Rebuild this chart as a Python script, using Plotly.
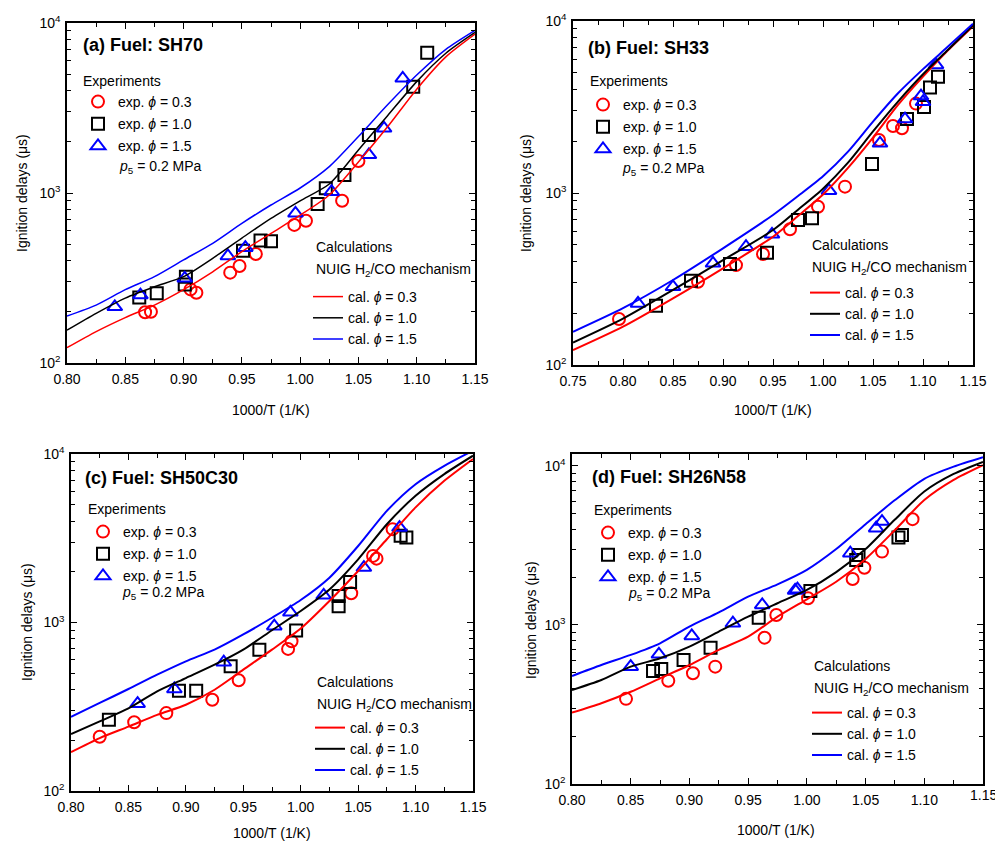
import plotly.graph_objects as go

W, H = 995, 841
FONT = "Liberation Sans, Arial, sans-serif"

PHI_LABELS = ["0.3", "1.0", "1.5"]
COLORS = ["#ff0000", "#000000", "#0000ff"]
SYMBOLS = ["circle-open", "square-open", "triangle-up-open"]

# ---------------- Panel (a) Fuel: SH70 ----------------
a_exp03_x = [0.867, 0.872, 0.906, 0.911, 0.940, 0.948, 0.962, 0.995, 1.005, 1.036, 1.050]
a_exp03_y = [199, 200, 271, 259, 340, 372, 438, 649, 687, 901, 1542]
a_exp10_x = [0.862, 0.877, 0.902, 0.901, 0.951, 0.966, 0.975, 1.015, 1.022, 1.038, 1.059, 1.097, 1.109]
a_exp10_y = [243, 257, 322, 290, 458, 525, 520, 861, 1067, 1276, 2193, 4220, 6680]
a_exp15_x = [0.841, 0.863, 0.901, 0.938, 0.953, 0.996, 1.027, 1.059, 1.072, 1.088]
a_exp15_y = [214, 251, 315, 426, 477, 759, 1018, 1676, 2400, 4730]
a_cal_x = [0.80, 0.825, 0.85, 0.875, 0.90, 0.925, 0.95, 0.975, 1.00, 1.025, 1.05, 1.075, 1.10, 1.125, 1.15]
a_cal03 = [123, 153, 185, 219, 270, 344, 452, 579, 740, 973, 1520, 2450, 4080, 6320, 8600]
a_cal10 = [156, 196, 241, 281, 322, 413, 543, 709, 900, 1130, 1790, 2850, 4520, 6640, 8800]
a_cal15 = [189, 219, 270, 322, 404, 506, 663, 850, 1070, 1430, 2150, 3300, 4940, 7000, 9050]

# ---------------- Panel (b) Fuel: SH33 ----------------
b_exp03_x = [0.796, 0.875, 0.913, 0.940, 0.967, 0.995, 1.022, 1.056, 1.070, 1.079, 1.093]
b_exp03_y = [185, 305, 381, 442, 615, 832, 1089, 2032, 2454, 2378, 3310]
b_exp10_x = [0.833, 0.868, 0.907, 0.944, 0.975, 0.989, 1.049, 1.084, 1.101, 1.107, 1.115]
b_exp10_y = [221, 309, 386, 450, 697, 713, 1475, 2690, 3160, 4110, 4740]
b_exp15_x = [0.815, 0.850, 0.890, 0.923, 0.949, 1.006, 1.057, 1.082, 1.098, 1.100, 1.113]
b_exp15_y = [228, 285, 390, 487, 575, 1031, 1945, 2690, 3660, 3390, 5550]
b_cal_x = [0.75, 0.80, 0.85, 0.90, 0.95, 0.975, 1.00, 1.025, 1.05, 1.075, 1.10, 1.125, 1.15]
b_cal03 = [122, 167, 244, 365, 557, 735, 980, 1400, 2100, 3250, 4750, 6750, 9300]
b_cal10 = [135, 186, 273, 407, 609, 800, 1060, 1500, 2280, 3400, 4900, 6800, 9450]
b_cal15 = [156, 214, 312, 477, 745, 960, 1250, 1740, 2600, 3800, 5250, 7100, 9650]

# ---------------- Panel (c) Fuel: SH50C30 ----------------
c_exp03_x = [0.825, 0.855, 0.883, 0.923, 0.946, 0.989, 0.992, 1.044, 1.063, 1.066, 1.080]
c_exp03_y = [210, 256, 290, 348, 454, 697, 774, 1490, 2485, 2393, 3580]
c_exp10_x = [0.833, 0.894, 0.909, 0.939, 0.964, 0.996, 1.033, 1.033, 1.043, 1.087, 1.092]
c_exp10_y = [265, 394, 394, 550, 690, 896, 1250, 1436, 1738, 3270, 3190]
c_exp15_x = [0.858, 0.890, 0.933, 0.977, 0.991, 1.020, 1.055, 1.086]
c_exp15_y = [330, 403, 581, 951, 1150, 1449, 2118, 3660]
c_cal_x = [0.80, 0.825, 0.85, 0.875, 0.90, 0.925, 0.95, 0.975, 1.00, 1.025, 1.05, 1.075, 1.10, 1.125, 1.15]
c_cal03 = [170, 206, 241, 283, 325, 399, 525, 690, 920, 1340, 2020, 3120, 4820, 6930, 9340]
c_cal10 = [218, 259, 309, 390, 468, 562, 691, 900, 1170, 1570, 2370, 3830, 5650, 7600, 9770]
c_cal15 = [275, 333, 403, 490, 588, 690, 849, 1067, 1360, 1845, 2845, 4600, 6620, 8510, 10470]

# ---------------- Panel (d) Fuel: SH26N58 ----------------
d_exp03_x = [0.846, 0.882, 0.903, 0.922, 0.964, 0.974, 1.001, 1.039, 1.049, 1.064, 1.090]
d_exp03_y = [343, 446, 497, 547, 832, 1156, 1472, 1945, 2292, 2893, 4626]
d_exp10_x = [0.869, 0.876, 0.895, 0.918, 0.959, 1.003, 1.042, 1.044, 1.078, 1.081]
d_exp10_y = [514, 528, 603, 720, 1111, 1637, 2566, 2755, 3550, 3680]
d_exp15_x = [0.850, 0.874, 0.902, 0.937, 0.962, 0.990, 0.992, 1.037, 1.059, 1.064]
d_exp15_y = [547, 654, 853, 1025, 1336, 1650, 1678, 2825, 4060, 4470]
d_cal_x = [0.80, 0.825, 0.85, 0.875, 0.90, 0.925, 0.95, 0.975, 1.00, 1.025, 1.05, 1.075, 1.10, 1.125, 1.15]
d_cal03 = [281, 322, 380, 462, 560, 697, 844, 1127, 1450, 1870, 2600, 3950, 6100, 8160, 10100]
d_cal10 = [390, 451, 547, 617, 731, 908, 1127, 1370, 1660, 2150, 3000, 4600, 6900, 8900, 10600]
d_cal15 = [478, 560, 648, 767, 977, 1200, 1507, 1800, 2220, 3000, 4300, 6100, 8300, 9900, 11350]

x_ticks_ab = [0.75, 0.80, 0.85, 0.90, 0.95, 1.00, 1.05, 1.10, 1.15]
y_major = [100, 1000, 10000]
y_major_text = ["10<sup>2</sup>", "10<sup>3</sup>", "10<sup>4</sup>"]
y_minor = [m * d for d in (100, 1000) for m in range(2, 10)]


def px(x):
    return x / W


def py(y):
    return 1 - y / H


panels = [
    dict(n=1, title="(a) Fuel: SH70", box=(67, 475, 23, 363), xr=(0.80, 1.15), yr=(2, 4),
         exp=[(a_exp03_x, a_exp03_y), (a_exp10_x, a_exp10_y), (a_exp15_x, a_exp15_y)],
         cx=a_cal_x, cal=[a_cal03, a_cal10, a_cal15], lw=1.5,
         tpos=(81, 45), ex=(81, 81), mk=(98, 100), p5=(117, 167), cl=(314, 247), ln=(313, 296),
         xt=(271, 410), yt=(22, 193)),
    dict(n=2, title="(b) Fuel: SH33", box=(573, 973, 21, 365), xr=(0.75, 1.15), yr=(2, 4),
         exp=[(b_exp03_x, b_exp03_y), (b_exp10_x, b_exp10_y), (b_exp15_x, b_exp15_y)],
         cx=b_cal_x, cal=[b_cal03, b_cal10, b_cal15], lw=2,
         tpos=(586, 48), ex=(588, 81), mk=(603, 103), p5=(620, 169), cl=(810, 245), ln=(810, 292),
         xt=(773, 410), yt=(526, 193)),
    dict(n=3, title="(c) Fuel: SH50C30", box=(71, 473, 454, 791), xr=(0.80, 1.15), yr=(2, 4),
         exp=[(c_exp03_x, c_exp03_y), (c_exp10_x, c_exp10_y), (c_exp15_x, c_exp15_y)],
         cx=c_cal_x, cal=[c_cal03, c_cal10, c_cal15], lw=2,
         tpos=(83, 478), ex=(86, 509), mk=(103, 530), p5=(120, 593), cl=(315, 682), ln=(315, 727),
         xt=(272, 833), yt=(27, 622)),
    dict(n=4, title="(d) Fuel: SH26N58", box=(572, 983, 454, 784), xr=(0.80, 1.15), yr=(2, 4.075),
         exp=[(d_exp03_x, d_exp03_y), (d_exp10_x, d_exp10_y), (d_exp15_x, d_exp15_y)],
         cx=d_cal_x, cal=[d_cal03, d_cal10, d_cal15], lw=2,
         tpos=(590, 477), ex=(592, 510), mk=(608, 531), p5=(626, 594), cl=(812, 666), ln=(812, 712),
         xt=(776, 830), yt=(531, 620)),
]

fig = go.Figure()
annotations = []
layout = {}

for p in panels:
    n = p["n"]
    sfx = "" if n == 1 else str(n)
    xa, ya = "x" + sfx, "y" + sfx
    leg_exp = "legend" if n == 1 else "legend%d" % (2 * n - 1)
    leg_cal = "legend%d" % (2 * n)
    for i, (ex, ey) in enumerate(p["exp"]):
        fig.add_trace(go.Scatter(
            x=ex, y=ey, mode="markers", xaxis=xa, yaxis=ya, legend=leg_exp,
            legendgroup="e%d_%d" % (n, i),
            name="exp. <i>ϕ</i> = " + PHI_LABELS[i],
            marker=dict(symbol=SYMBOLS[i], size=12 if i < 2 else 13, color=COLORS[i],
                        line=dict(width=2, color=COLORS[i])),
            cliponaxis=True))
    for i, cy in enumerate(p["cal"]):
        fig.add_trace(go.Scatter(
            x=p["cx"], y=cy, mode="lines", xaxis=xa, yaxis=ya, legend=leg_cal,
            legendgroup="c%d_%d" % (n, i),
            name="cal. <i>ϕ</i> = " + PHI_LABELS[i],
            line=dict(color=COLORS[i], width=p["lw"], shape="spline", smoothing=0.7)))

    x0, x1, y0, y1 = p["box"]
    common_axis = dict(showline=True, linecolor="black", linewidth=1.5, mirror="allticks",
                       ticks="inside", ticklen=6, tickwidth=1.2, tickcolor="black",
                       showgrid=False, zeroline=False, automargin=False,
                       tickfont=dict(family=FONT, size=14, color="black"))
    xticks = [t for t in x_ticks_ab if p["xr"][0] - 1e-9 <= t <= p["xr"][1] + 1e-9]
    layout["xaxis" + sfx] = dict(
        common_axis, domain=[px(x0), px(x1)], range=list(p["xr"]), anchor=ya,
        tickvals=xticks, ticktext=["%.2f" % t for t in xticks], ticklabelstandoff=2,
        minor=dict(dtick=0.025, ticks="inside", ticklen=4, tickcolor="black", tickwidth=1))
    layout["yaxis" + sfx] = dict(
        common_axis, domain=[py(y1), py(y0)], type="log", range=list(p["yr"]), anchor=xa,
        tickvals=y_major, ticktext=y_major_text, ticklabelstandoff=2,
        minor=dict(tickvals=y_minor, ticks="inside", ticklen=4, tickcolor="black", tickwidth=1))

    mx, my = p["mk"]
    layout[leg_exp] = dict(x=px(mx - 20), y=py(my - 14), xanchor="left", yanchor="top",
                           bgcolor="rgba(0,0,0,0)", borderwidth=0,
                           font=dict(family=FONT, size=14, color="black"),
                           tracegroupgap=1, itemclick=False)
    lx, ly = p["ln"]
    layout[leg_cal] = dict(x=px(lx - 5), y=py(ly - 15), xanchor="left", yanchor="top",
                           bgcolor="rgba(0,0,0,0)", borderwidth=0,
                           font=dict(family=FONT, size=14, color="black"),
                           tracegroupgap=0, itemclick=False)

    tx, ty = p["tpos"]
    annotations.append(dict(x=px(tx), y=py(ty), xref="paper", yref="paper", showarrow=False,
                            xanchor="left", yanchor="middle", text="<b>" + p["title"] + "</b>",
                            font=dict(family=FONT, size=18, color="black")))
    ex_, ey_ = p["ex"]
    annotations.append(dict(x=px(ex_), y=py(ey_), xref="paper", yref="paper", showarrow=False,
                            xanchor="left", yanchor="middle", text="Experiments",
                            font=dict(family=FONT, size=14, color="black")))
    p5x, p5y = p["p5"]
    annotations.append(dict(x=px(p5x), y=py(p5y), xref="paper", yref="paper", showarrow=False,
                            xanchor="left", yanchor="middle",
                            text="<i>p</i><sub>5</sub> = 0.2 MPa",
                            font=dict(family=FONT, size=14, color="black")))
    cx_, cy_ = p["cl"]
    annotations.append(dict(x=px(cx_), y=py(cy_), xref="paper", yref="paper", showarrow=False,
                            xanchor="left", yanchor="middle", text="Calculations",
                            font=dict(family=FONT, size=14, color="black")))
    annotations.append(dict(x=px(cx_), y=py(cy_ + 23), xref="paper", yref="paper", showarrow=False,
                            xanchor="left", yanchor="middle",
                            text="NUIG H<sub>2</sub>/CO mechanism",
                            font=dict(family=FONT, size=14, color="black")))
    xtx, xty = p["xt"]
    annotations.append(dict(x=px(xtx), y=py(xty), xref="paper", yref="paper", showarrow=False,
                            xanchor="center", yanchor="middle", text="1000/T (1/K)",
                            font=dict(family=FONT, size=14, color="black")))
    ytx, yty = p["yt"]
    annotations.append(dict(x=px(ytx), y=py(yty), xref="paper", yref="paper", showarrow=False,
                            xanchor="center", yanchor="middle", textangle=-90,
                            text="Ignition delays (μs)",
                            font=dict(family=FONT, size=14, color="black")))

# last x tick label of panel (d) sits at the page edge; plotly drops it, so draw it as text
annotations.append(dict(x=1.15, xref="x4", y=py(795), yref="paper", showarrow=False,
                        xanchor="center", yanchor="middle", text="1.15",
                        font=dict(family=FONT, size=14, color="black")))

fig.update_layout(
    width=W, height=H, margin=dict(l=0, r=0, t=0, b=0),
    paper_bgcolor="white", plot_bgcolor="white",
    font=dict(family=FONT, size=14, color="black"),
    showlegend=True, annotations=annotations, **layout)

fig.write_html("out.html", config={"displayModeBar": False},
               post_script="document.body.style.margin='0px';document.body.style.overflow='hidden';")
